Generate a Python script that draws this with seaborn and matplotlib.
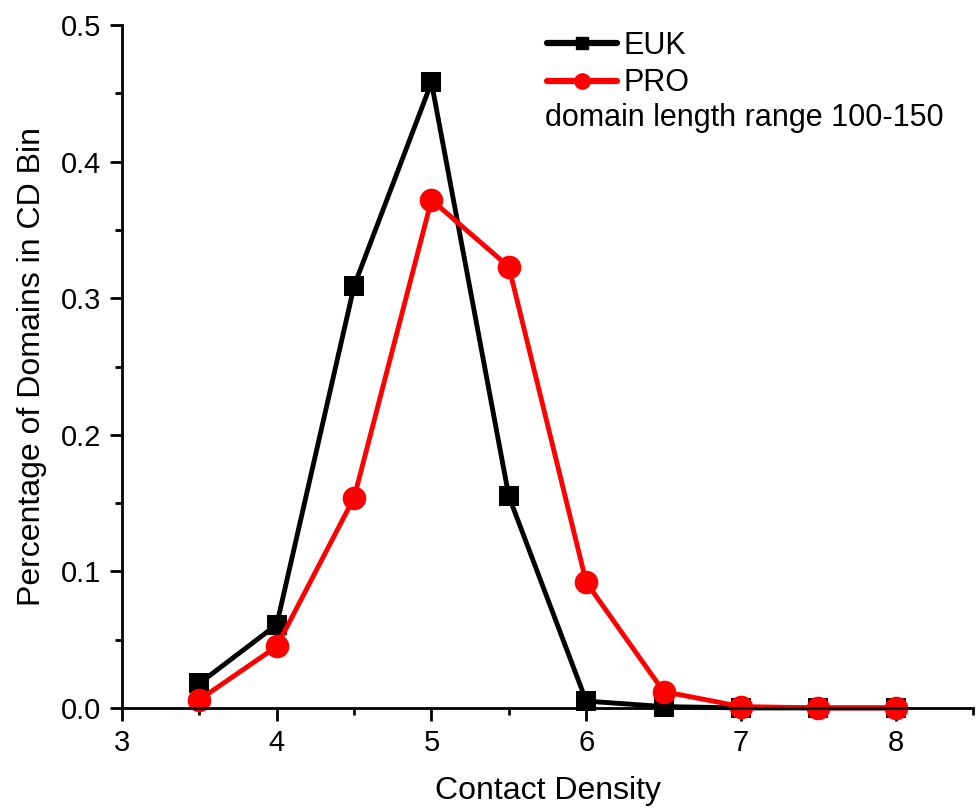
import matplotlib.pyplot as plt
import seaborn as sns
import pandas as pd
from matplotlib.lines import Line2D
from matplotlib.ticker import MultipleLocator

contact_density = [3.5, 4.0, 4.5, 5.0, 5.5, 6.0, 6.5, 7.0, 7.5, 8.0]
euk = [0.018, 0.061, 0.309, 0.458, 0.155, 0.005, 0.001, 0.0, 0.0, 0.0]
pro = [0.006, 0.045, 0.154, 0.372, 0.323, 0.092, 0.012, 0.001, 0.0, 0.0]

frame = pd.DataFrame({
    'CD': contact_density * 2,
    'value': euk + pro,
    'group': ['EUK'] * len(euk) + ['PRO'] * len(pro),
})

sns.set_style('ticks', {'text.color': 'black', 'axes.labelcolor': 'black',
                        'xtick.color': 'black', 'ytick.color': 'black',
                        'axes.edgecolor': 'black'})
plt.rcParams['font.family'] = ['Liberation Sans', 'DejaVu Sans']

fig = plt.figure(figsize=(9.76, 8.1), dpi=100)
ax = fig.add_axes([0.125, 0.126, 0.872, 0.843])

colors = {'EUK': 'black', 'PRO': '#ff0000'}
markers = {'EUK': 's', 'PRO': 'o'}
sizes = {'EUK': 15, 'PRO': 17}
for name in ['EUK', 'PRO']:
    sub = frame[frame['group'] == name]
    sns.lineplot(data=sub, x='CD', y='value', ax=ax, color=colors[name],
                 marker=markers[name], markersize=sizes[name],
                 markeredgewidth=0, linewidth=3.5, clip_on=False, legend=False)

ax.set_xlim(3, 8.5)
ax.set_ylim(0, 0.5)
ax.xaxis.set_major_locator(MultipleLocator(1))
ax.xaxis.set_minor_locator(MultipleLocator(0.5))
ax.yaxis.set_major_locator(MultipleLocator(0.1))
ax.yaxis.set_minor_locator(MultipleLocator(0.05))
ax.yaxis.set_major_formatter(plt.FuncFormatter(lambda v, p: f'{v:.1f}'))
ax.tick_params(which='major', direction='out', length=9, width=2, labelsize=21, pad=6)
ax.tick_params(which='minor', direction='out', length=5, width=2)
for s in ['top', 'right']:
    ax.spines[s].set_visible(False)
for s in ['left', 'bottom']:
    ax.spines[s].set_linewidth(2)

ax.set_xlabel('Contact Density', fontsize=23, labelpad=14)
ax.set_ylabel('Percentage of Domains in CD Bin', fontsize=23, labelpad=10)

handles = [
    Line2D([], [], color='black', marker='s', markersize=8, linewidth=4.5),
    Line2D([], [], color='#ff0000', marker='o', markersize=11, linewidth=4.5),
]
leg = ax.legend(handles, ['EUK', 'PRO'], loc='upper left', bbox_to_anchor=(0.499, 0.992),
                frameon=False, fontsize=22, handlelength=2.3, handletextpad=0.2,
                labelspacing=0.25, borderpad=0, borderaxespad=0)
ax.text(0.497, 0.864, 'domain length range 100-150', transform=ax.transAxes,
        fontsize=22, va='center', ha='left')

fig.savefig('out.png', dpi=100)
